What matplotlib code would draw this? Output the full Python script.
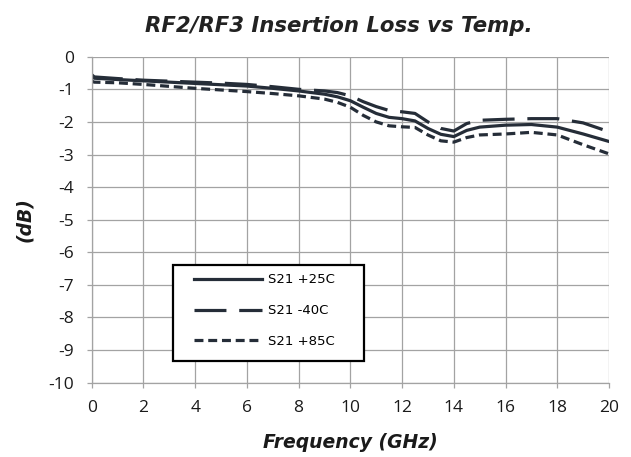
import matplotlib
matplotlib.use("Agg")
import matplotlib.pyplot as plt
from matplotlib.patches import Rectangle

freq = [0, 0.1, 1, 2, 3, 4, 5, 6, 7, 8, 9, 9.5, 10, 10.5, 11, 11.5, 12, 12.5, 13, 13.5, 14, 14.5, 15, 16, 17, 18, 19, 20]
s21_p25 = [-0.6, -0.66, -0.7, -0.74, -0.78, -0.82, -0.86, -0.9, -0.97, -1.05, -1.15, -1.23, -1.35, -1.55, -1.74, -1.86, -1.9, -1.97, -2.2, -2.38, -2.45, -2.26, -2.16, -2.1, -2.08, -2.16, -2.37, -2.6]
s21_m40 = [-0.55, -0.62, -0.67, -0.72, -0.75, -0.78, -0.81, -0.85, -0.92, -1.0, -1.05, -1.1, -1.2, -1.38, -1.53, -1.65, -1.69, -1.74, -2.0, -2.2, -2.28, -2.05, -1.95, -1.92, -1.9, -1.9, -2.03, -2.3]
s21_p85 = [-0.75, -0.78, -0.8, -0.85, -0.91, -0.97, -1.02, -1.07, -1.13, -1.2, -1.3, -1.4, -1.55, -1.8, -2.0, -2.12, -2.15, -2.17, -2.4, -2.58, -2.62, -2.48, -2.4, -2.37, -2.32, -2.4, -2.7, -2.98]
labels = ["S21 +25C", "S21 -40C", "S21 +85C"]
xticks = list(range(0, 21, 2))
yticks = list(range(-10, 1))

plt.rcParams['font.family'] = ['Open Sans', 'DejaVu Sans']
plt.rcParams['axes.unicode_minus'] = False
col = '#252d38'
grid_col = '#a3a3a3'

fig = plt.figure(figsize=(6.31, 4.57), dpi=100)
ax = fig.add_axes([0.1453, 0.1626, 0.8198, 0.7133])

ax.plot(freq, s21_p25, color=col, lw=2.3, ls='-', label=labels[0])
ax.plot(freq, s21_m40, color=col, lw=2.3, ls=(0, (10, 4)), label=labels[1])
ax.plot(freq, s21_p85, color=col, lw=2.3, ls=(0, (2.8, 1.5)), label=labels[2])

ax.set_xlim(0, 20)
ax.set_ylim(-10, 0)
ax.set_xticks(xticks)
ax.set_yticks(yticks)
ax.grid(True, color=grid_col, lw=0.9)
ax.set_axisbelow(True)
for s in ['top', 'right']:
    ax.spines[s].set_visible(False)
for s in ['left', 'bottom']:
    ax.spines[s].set_color(grid_col)
    ax.spines[s].set_linewidth(0.9)
ax.tick_params(axis='both', direction='out', length=3.8, width=0.9, color=grid_col,
               labelsize=12.5, labelcolor='#1a1a1a')
ax.tick_params(axis='y', pad=9)
ax.tick_params(axis='x', pad=9)

lab_font = dict(family=['DejaVu Sans'], fontsize=13.5, fontweight='bold', style='italic', color='#1a1a1a')
ax.set_xlabel('Frequency (GHz)', labelpad=12, **lab_font)
ax.set_ylabel('(dB)', labelpad=10, **lab_font)
fig.text(0.537, 0.943, 'RF2/RF3 Insertion Loss vs Temp.', ha='center', va='center',
         family=['DejaVu Sans'], fontsize=15.3, fontweight='bold', style='italic', color='#222222')

# legend frame
ax.add_patch(Rectangle((0.157, 0.0666), 0.369, 0.294, transform=ax.transAxes,
                       facecolor='white', edgecolor='black', lw=1.6, zorder=5))
leg = ax.legend(loc='upper left', bbox_to_anchor=(0.197, 0.335), frameon=False,
                prop=dict(family=['DejaVu Sans'], size=9.5), handlelength=5.2,
                labelspacing=1.35, borderpad=0, borderaxespad=0, handletextpad=0.45)
leg.set_zorder(6)

fig.savefig('out.png', dpi=100)
